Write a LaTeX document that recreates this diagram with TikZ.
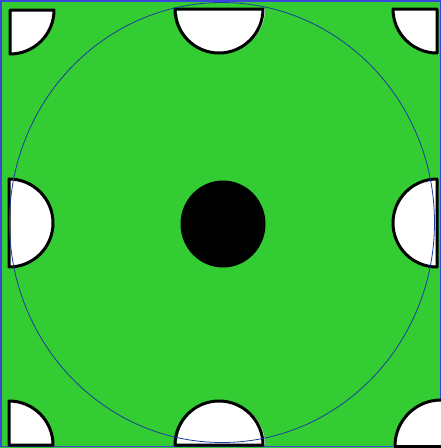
\documentclass[tikz,border=0pt]{standalone}
\begin{document}
\begin{tikzpicture}[x=1pt,y=-1pt,
  hole/.style={fill=white},
  holeline/.style={draw=black,line width=3pt,line join=round}]
\definecolor{bggreen}{RGB}{51,204,51}
\definecolor{frameblue}{RGB}{60,70,220}
\definecolor{ringblue}{RGB}{30,60,160}
\useasboundingbox (0,0) rectangle (441,448);
\fill[bggreen] (0,0) rectangle (441,448);
\draw[frameblue,line width=1.2pt] (1,1) rectangle (441,446.5);
% white fills (slightly offset)
\fill[white] (177,9) arc[start angle=180,end angle=0,radius=44] -- cycle;
\fill[white] (177,445) arc[start angle=180,end angle=360,radius=44] -- cycle;
\fill[white] (9,179) arc[start angle=-90,end angle=90,radius=44] -- cycle;
\fill[white] (437,179) arc[start angle=270,end angle=90,radius=44] -- cycle;
\fill[white] (10,10) -- (54,10) arc[start angle=0,end angle=90,radius=44] -- cycle;
\fill[white] (437,9) -- (437,53) arc[start angle=90,end angle=180,radius=44] -- cycle;
\fill[white] (9,445) -- (9,401) arc[start angle=270,end angle=360,radius=44] -- cycle;
\fill[white] (441,445) -- (395,445) arc[start angle=180,end angle=270,radius=46] -- (441,399) -- cycle;
% outlines
\draw[holeline] (175,9) arc[start angle=180,end angle=0,radius=44] -- cycle;
\draw[holeline] (175,445) arc[start angle=180,end angle=360,radius=44] -- cycle;
\draw[holeline] (9,179) arc[start angle=-90,end angle=90,radius=44] -- cycle;
\draw[holeline] (437,179) arc[start angle=270,end angle=90,radius=44] -- cycle;
\draw[holeline] (10,10) -- (54,10) arc[start angle=0,end angle=90,radius=44] -- cycle;
\draw[holeline] (437,9) -- (437,53) arc[start angle=90,end angle=180,radius=44] -- cycle;
\draw[holeline] (9,445) -- (9,401) arc[start angle=270,end angle=360,radius=44] -- cycle;
\draw[holeline] (395,446) arc[start angle=180,end angle=270,radius=46];
\draw[black,line width=3pt] (394,446) -- (441,446);
% centre disk
\fill[black] (223,224) ellipse[x radius=42.5,y radius=43.5];
% ring
\draw[ringblue,line width=0.8pt] (222,222.5) ellipse[x radius=212.5,y radius=220];
\end{tikzpicture}
\end{document}
